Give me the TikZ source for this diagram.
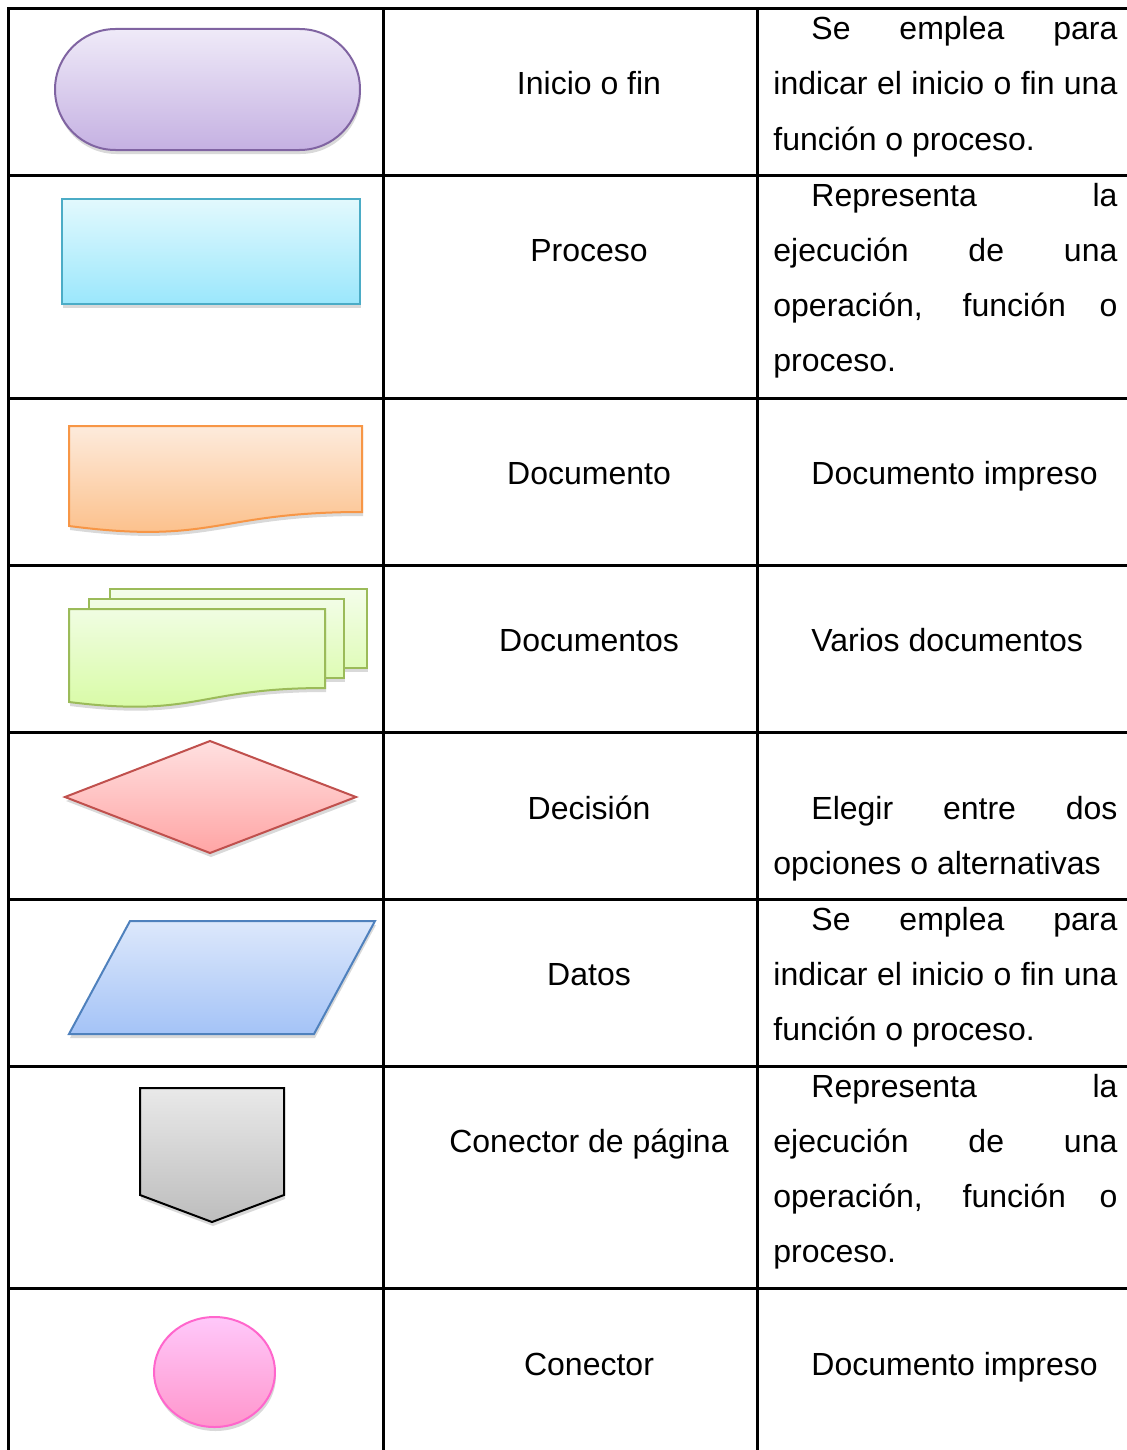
\documentclass[tikz,border=0pt]{standalone}
\usepackage{fontspec}
\setmainfont{Liberation Sans}
\usepackage{tikz}
\usetikzlibrary{shadows}
\tolerance=10000
\hbadness=10000

\definecolor{lila}{HTML}{8064A2}
\definecolor{cian}{HTML}{4BACC6}
\definecolor{naranja}{HTML}{F79646}
\definecolor{verde}{HTML}{9BBB59}
\definecolor{rojo}{HTML}{C0504D}
\definecolor{azul}{HTML}{4F81BD}
\definecolor{rosa}{HTML}{FF66CC}

\begin{document}
\begin{tikzpicture}[x=0.5pt,y=-0.5pt,
	every node/.style={font=\fontsize{16}{27.5}\selectfont, inner sep=0pt},
	titulo/.style={anchor=base},
	texto/.style={anchor=base west, text width=172pt, align=justify},
	linea/.style={line width=1.5pt},
	sombra/.style={line width=1pt, drop shadow={shadow xshift=0.5pt, shadow yshift=-2pt, opacity=0.3}}]
			\useasboundingbox (0,0) rectangle (1127,1450);

			\draw [sombra, draw=lila, top color={rgb,255:red,239;green,234;blue,248}, bottom color={rgb,255:red,197;green,177;blue,226}, rounded corners=30.25pt] (55,29) rectangle (360,150);
			\draw [sombra, draw=cian, top color={rgb,255:red,226;green,249;blue,253}, bottom color={rgb,255:red,155;green,231;blue,252}] (62,199) rectangle (360,304);
			\draw [sombra, draw=naranja, top color={rgb,255:red,253;green,235;blue,220}, bottom color={rgb,255:red,252;green,188;blue,131}] (69,426) -- (362,426) -- (362,512) .. controls (215,512) and (215,545) .. (69,526) -- cycle;
			\draw [sombra, draw=verde, top color={rgb,255:red,244;green,253;blue,234}, bottom color={rgb,255:red,224;green,252;blue,186}] (110,589) rectangle (367,668);
			\draw [sombra, draw=verde, top color={rgb,255:red,242;green,253;blue,230}, bottom color={rgb,255:red,222;green,252;blue,180}] (89,599) rectangle (344,678);
			\draw [sombra, draw=verde, top color={rgb,255:red,240;green,253;blue,226}, bottom color={rgb,255:red,214;green,251;blue,160}] (69,609) -- (325,609) -- (325,688) .. controls (197,688) and (197,718) .. (69,702) -- cycle;
			\draw [sombra, draw=rojo, top color={rgb,255:red,255;green,224;blue,224}, bottom color={rgb,255:red,255;green,165;blue,165}] (65,797) -- (210,741) -- (356,797) -- (210,853) -- cycle;
			\draw [sombra, draw=azul, top color={rgb,255:red,221;green,232;blue,251}, bottom color={rgb,255:red,164;green,195;blue,247}] (69,1034) -- (130,921) -- (375,921) -- (314,1034) -- cycle;
			\draw [sombra, draw=black, top color={rgb,255:red,233;green,233;blue,233}, bottom color={rgb,255:red,189;green,189;blue,189}] (140,1088) -- (284,1088) -- (284,1195) -- (212,1222) -- (140,1195) -- cycle;
			\draw [sombra, draw=rosa, top color={rgb,255:red,255;green,200;blue,250}, middle color={rgb,255:red,255;green,204;blue,224}, bottom color={rgb,255:red,255;green,150;blue,204}] (214.5,1372) ellipse [x radius=60.5, y radius=55];

			\node [titulo] (titulo1) at (589,95) {Inicio o fin};
			\node [titulo] (titulo2) at (589,261) {Proceso};
			\node [titulo] (titulo3) at (589,484) {Documento};
			\node [titulo] (titulo4) at (589,651) {Documentos};
			\node [titulo] (titulo5) at (589,819) {Decisión};
			\node [titulo] (titulo6) at (589,985) {Datos};
			\node [titulo] (titulo7) at (589,1152) {Conector de página};
			\node [titulo] (titulo8) at (589,1375) {Conector};

			\node [texto] (texto1) at (773,40) {\hspace*{19pt}Se emplea para\linebreak indicar el inicio o fin una\linebreak función o proceso.};
			\node [texto] (texto2) at (773,206) {\hspace*{19pt}Representa la\linebreak ejecución de una\linebreak operación, función o\linebreak proceso.};
			\node [texto] (texto3) at (773,484) {\hspace*{19pt}Documento impreso};
			\node [texto] (texto4) at (773,651) {\hspace*{19pt}Varios documentos};
			\node [texto] (texto5) at (773,819) {\hspace*{19pt}Elegir entre dos\linebreak opciones o alternativas};
			\node [texto] (texto6) at (773,930) {\hspace*{19pt}Se emplea para\linebreak indicar el inicio o fin una\linebreak función o proceso.};
			\node [texto] (texto7) at (773,1097) {\hspace*{19pt}Representa la\linebreak ejecución de una\linebreak operación, función o\linebreak proceso.};
			\node [texto] (texto8) at (773,1375) {\hspace*{19pt}Documento impreso};

			\foreach \y in {9,175,398,565,732,899,1066,1288}
				\draw [linea] (7.25,\y) -- (1127,\y);
			\foreach \x in {8,383,757}
				\draw [linea] (\x,8.25) -- (\x,1450);
	\end{tikzpicture}
\end{document}
